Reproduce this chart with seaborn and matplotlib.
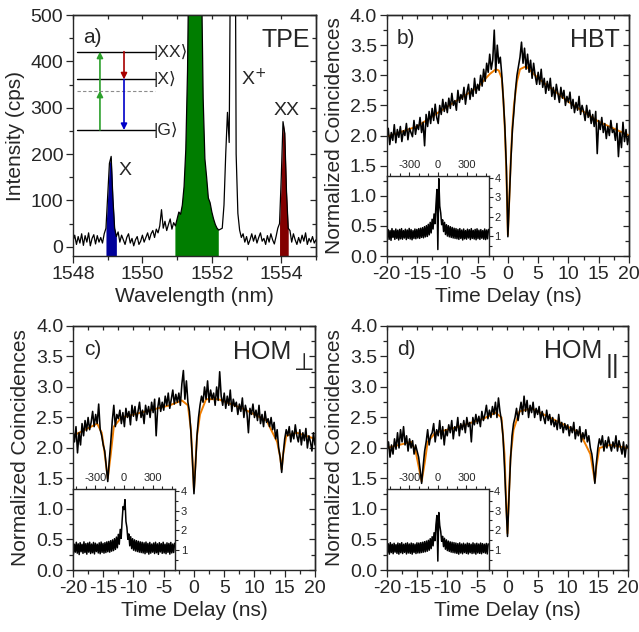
import numpy as np
import matplotlib
matplotlib.use("Agg")
import matplotlib.pyplot as plt
from matplotlib.ticker import MultipleLocator, FixedLocator
import seaborn as sns

sns.set_style("ticks")
plt.rcParams["font.family"] = ["Liberation Sans", "DejaVu Sans"]
plt.rcParams["axes.unicode_minus"] = False
plt.rcParams["axes.linewidth"] = 1.0

# ── a) TPE spectrum, 0.05 nm steps from 1548.00 to 1555.00 ──
wavelength = np.round(np.arange(1548.0, 1555.001, 0.05), 2)
intensity = [
    12, 25, 5, 22, 8, 28, 3, 24, 10, 30,          # 1548.00
    2, 18, 26, 6, 24, 10, 20, 8, 28, 40,          # 1548.50
    110, 180, 195, 105, 40, 22, 32, 10, 25, 15,   # 1549.00
    5, 20, 28, 8, 18, 2, 15, 22, 5, 12,           # 1549.50
    25, 10, 20, 30, 15, 28, 35, 20, 38, 30,       # 1550.00
    45, 80, 40, 55, 35, 48, 60, 38, 52, 45,       # 1550.50
    60, 75, 70, 90, 130, 210, 380, 700, 1100, 1500,  # 1551.00
    1600, 1500, 1200, 900, 600, 320, 190, 150, 105, 95,  # 1551.50
    75, 60, 48, 40, 36, 38, 40, 90, 200, 290,     # 1552.00
    225, 800, 2000, 1200, 200, 72, 36, 20, 28, 10,  # 1552.50
    22, 5, 15, 28, 12, 25, 8, 20, 30, 12,         # 1553.00
    18, 5, 24, 10, 28, 15, 6, 22, 40, 50,         # 1553.50
    150, 270, 245, 120, 40, 35, 10, 28, 15, 5,    # 1554.00
    20, 8, 25, 12, 30, 5, 18, 10, 22, 8,          # 1554.50
    15,                                           # 1555.00
]
band_x = (1548.93, 1549.27)
band_laser = (1550.93, 1552.21)
band_xx = (1553.93, 1554.22)

# ── b-d) correlation traces, 0.25 ns steps from -20 to 20 ns ──
delay = np.arange(-20, 20.001, 0.25)
g2_hbt = [
    1.95, 2.12, 1.85, 2.05, 1.92, 2.18, 1.88, 2.10, 1.97, 2.15,
    1.90, 2.08, 2.00, 2.20, 1.93, 2.12, 2.05, 1.98, 2.25, 2.02,
    2.18, 2.10, 2.30, 2.05, 2.22, 1.83, 2.35, 2.15, 2.40, 2.20,
    2.45, 2.25, 2.52, 2.30, 2.20, 2.50, 2.35, 2.60, 2.40, 2.55,
    2.38, 2.62, 2.45, 2.70, 2.50, 2.58, 2.42, 2.75, 2.55, 2.68,
    2.60, 2.80, 2.52, 2.72, 2.85, 2.60, 2.78, 2.65, 2.95, 2.70,
    2.85, 2.75, 3.00, 2.82, 3.10, 2.90, 3.20, 3.05, 3.35, 3.10,
    3.25, 3.75, 3.05, 3.50, 3.20, 3.30, 3.00, 2.60, 2.15, 1.48,
    0.32, 0.95, 1.60, 2.10, 2.40, 2.75, 3.00, 3.15, 3.30, 3.55,
    3.20, 3.45, 3.10, 3.35, 3.05, 3.25, 2.95, 3.20, 3.00, 2.85,
    3.05, 2.85, 3.10, 2.80, 2.95, 2.70, 2.90, 2.75, 2.95, 2.65,
    2.80, 2.60, 2.85, 2.70, 2.55, 2.80, 2.62, 2.75, 2.50, 2.65,
    2.55, 2.72, 2.45, 2.60, 2.38, 2.55, 2.42, 2.65, 2.35, 2.50,
    2.40, 2.25, 2.50, 2.30, 2.42, 2.20, 2.35, 2.15, 2.40, 1.70,
    2.25, 2.10, 2.30, 2.05, 2.20, 1.95, 2.15, 2.00, 2.25, 2.05,
    2.10, 1.92, 2.20, 1.65, 2.05, 1.80, 2.22, 1.90, 2.10, 1.85,
    2.00,
]
g2_hom_perp = [
    2.30, 2.10, 2.35, 1.92, 2.25, 2.05, 2.40, 2.20, 2.45, 2.28,
    2.50, 2.30, 2.42, 2.60, 2.35, 2.55, 2.40, 2.72, 2.30, 2.20,
    2.05, 1.95, 1.70, 1.45, 1.80, 2.10, 2.45, 2.70, 2.35, 2.55,
    2.48, 2.62, 2.40, 2.58, 2.35, 2.65, 2.50, 2.60, 2.38, 2.70,
    2.52, 2.68, 2.45, 2.60, 2.75, 2.50, 2.62, 2.40, 2.70, 2.55,
    2.68, 2.50, 2.75, 2.58, 2.80, 2.20, 2.65, 2.82, 2.60, 2.75,
    2.62, 2.85, 2.70, 2.90, 2.65, 2.80, 2.95, 2.72, 2.88, 2.75,
    2.90, 2.70, 3.05, 3.27, 2.80, 3.10, 2.75, 2.60, 2.25, 1.80,
    1.25, 1.70, 2.20, 2.50, 2.70, 2.85, 2.75, 3.00, 2.80, 3.10,
    2.75, 2.95, 2.80, 2.90, 2.70, 3.00, 2.78, 3.25, 2.85, 2.70,
    2.90, 2.65, 2.85, 2.70, 2.95, 2.60, 2.80, 2.68, 2.75, 2.55,
    2.72, 2.60, 2.82, 2.50, 2.70, 2.58, 2.25, 2.65, 2.55, 2.72,
    2.50, 2.62, 2.45, 2.70, 2.40, 2.55, 2.35, 2.60, 2.42, 2.48,
    2.35, 2.50, 2.30, 2.42, 2.15, 2.30, 2.00, 1.85, 1.60, 1.90,
    2.15, 2.30, 2.20, 2.35, 2.10, 2.28, 2.15, 2.38, 2.20, 2.10,
    2.30, 2.05, 2.25, 2.12, 2.32, 2.00, 2.20, 2.10, 1.95, 2.25,
    2.05,
]
g2_hom_par = [
    1.95, 2.10, 1.85, 2.05, 1.90, 2.15, 1.98, 2.25, 2.00, 2.30,
    2.10, 2.35, 2.05, 2.20, 1.95, 2.15, 2.00, 2.12, 1.90, 2.05,
    1.95, 1.85, 1.65, 1.42, 1.70, 1.95, 2.10, 2.30, 2.05, 2.20,
    2.25, 2.40, 2.10, 2.30, 2.20, 2.45, 2.15, 2.35, 2.05, 2.30,
    2.20, 2.38, 2.25, 2.45, 2.15, 2.35, 2.28, 2.50, 2.20, 2.40,
    2.30, 2.45, 2.25, 2.50, 2.35, 2.42, 2.10, 2.50, 2.38, 2.55,
    2.40, 2.52, 2.35, 2.60, 2.45, 2.55, 2.70, 2.48, 2.62, 2.50,
    2.68, 2.55, 2.75, 2.50, 2.82, 2.60, 2.45, 2.20, 1.70, 1.10,
    0.55, 1.20, 1.80, 2.20, 2.40, 2.50, 2.65, 2.45, 2.60, 2.75,
    2.55, 2.85, 2.60, 2.78, 2.50, 2.70, 2.58, 2.75, 2.50, 2.65,
    2.55, 2.68, 2.45, 2.60, 2.50, 2.40, 2.62, 2.45, 2.55, 2.38,
    2.50, 2.35, 2.45, 2.30, 2.55, 2.32, 2.42, 2.25, 2.40, 2.30,
    2.38, 2.20, 2.35, 2.25, 2.42, 2.15, 2.30, 2.20, 2.35, 2.10,
    2.25, 2.15, 2.30, 2.10, 2.20, 2.00, 1.90, 1.70, 1.42, 1.75,
    2.00, 2.15, 2.05, 2.20, 1.95, 2.12, 2.00, 2.18, 2.05, 1.95,
    2.10, 2.00, 2.20, 1.95, 2.12, 2.02, 1.90, 2.10, 1.85, 2.05,
    2.00,
]

# fitted curves (orange, mostly hidden under the data)
fit_t_hbt = [-20, -15, -10, -5, -3, -2, -1.5, -1, -0.75, -0.5, -0.25, 0,
             0.25, 0.5, 0.75, 1, 1.5, 2, 3, 5, 10, 15, 20]
fit_hbt = [1.98, 2.15, 2.48, 2.8, 3.02, 3.1, 3.08, 2.95, 2.6, 2.1, 1.4, 0.35,
           1.0, 1.65, 2.15, 2.5, 2.9, 3.1, 3.15, 2.95, 2.56, 2.23, 2.0]
fit_t_hom = [-20, -16, -15.25, -14.75, -14.25, -13.75, -13.25, -12, -8, -4, -2, -1,
             -0.5, -0.25, 0, 0.25, 0.5, 1, 2, 4, 8, 12, 13.75, 14.25, 14.5, 14.75,
             15.25, 17, 20]
fit_hom_perp = [2.2, 2.4, 2.25, 1.9, 1.5, 1.9, 2.35, 2.5, 2.6, 2.7, 2.78, 2.7,
                2.3, 1.8, 1.3, 1.75, 2.2, 2.55, 2.8, 2.8, 2.65, 2.45, 2.1, 1.85, 1.65, 1.9,
                2.2, 2.25, 2.15]
fit_hom_par = [2.0, 2.1, 1.95, 1.7, 1.45, 1.75, 2.1, 2.25, 2.35, 2.48, 2.58, 2.5,
               1.9, 1.2, 0.6, 1.25, 1.85, 2.3, 2.6, 2.65, 2.45, 2.25, 1.9, 1.6, 1.45, 1.7,
               2.0, 2.05, 2.0]

# ── insets: long time-scale correlations, 10 ns steps from -530 to 530 ──
delay_long = np.arange(-530, 531, 10)
long_hbt = [
    0.90, 1.35, 0.85, 1.30, 0.80, 1.40, 0.95, 1.30, 0.85, 1.38, 0.90,
    1.32, 0.82, 1.36, 0.88, 1.40, 0.86, 1.30, 0.92, 1.37, 0.84, 1.33,
    0.90, 1.41, 0.87, 1.35, 0.83, 1.30, 0.90, 1.38, 0.88, 1.36, 0.92,
    1.40, 0.90, 1.42, 0.95, 1.45, 0.93, 1.50, 0.98, 1.55, 1.00,
    1.62, 1.08, 1.72, 1.18, 1.88, 1.38, 2.15, 1.65, 2.60, 3.40,
    0.33,
    3.95, 2.55, 2.20, 1.60, 1.85, 1.25, 1.72, 1.10, 1.60, 1.02,
    1.55, 0.98, 1.50, 0.95, 1.46, 0.92, 1.42, 0.90, 1.40, 0.88,
    1.36, 0.85, 1.40, 0.90, 1.33, 0.82, 1.38, 0.88, 1.30, 0.86, 1.37,
    0.92, 1.34, 0.84, 1.40, 0.90, 1.31, 0.87, 1.36, 0.83, 1.39, 0.89,
    1.32, 0.85, 1.35, 0.91, 1.30, 0.86, 1.38, 0.84, 1.33, 0.88, 1.36,
]
long_hom_perp = [
    0.80, 1.30, 0.90, 1.40, 0.85, 1.32, 0.78, 1.38, 0.92, 1.30, 0.84,
    1.42, 0.88, 1.33, 0.80, 1.36, 0.90, 1.40, 0.83, 1.31, 0.87, 1.39,
    0.81, 1.35, 0.93, 1.30, 0.86, 1.37, 0.82, 1.41, 0.89, 1.34, 0.85,
    1.38, 0.88, 1.42, 0.92, 1.44, 0.90, 1.48, 0.95, 1.52, 0.98,
    1.58, 1.04, 1.66, 1.12, 1.80, 1.30, 2.05, 1.60, 2.50, 3.20,
    3.05,
    3.55, 2.45, 2.15, 1.55, 1.82, 1.22, 1.68, 1.08, 1.58, 1.00,
    1.52, 0.96, 1.48, 0.93, 1.45, 0.90, 1.42, 0.88, 1.40, 0.86,
    1.37, 0.82, 1.41, 0.88, 1.34, 0.80, 1.39, 0.85, 1.31, 0.90, 1.36,
    0.83, 1.40, 0.87, 1.32, 0.79, 1.38, 0.91, 1.33, 0.84, 1.40, 0.86,
    1.30, 0.82, 1.37, 0.89, 1.34, 0.80, 1.39, 0.86, 1.31, 0.88, 1.35,
]
long_hom_par = [
    0.85, 1.32, 0.80, 1.38, 0.88, 1.30, 0.82, 1.35, 0.90, 1.28, 0.84,
    1.36, 0.80, 1.33, 0.87, 1.38, 0.83, 1.30, 0.89, 1.34, 0.81, 1.37,
    0.86, 1.31, 0.84, 1.36, 0.80, 1.33, 0.88, 1.30, 0.83, 1.37, 0.86,
    1.36, 0.86, 1.38, 0.88, 1.40, 0.90, 1.43, 0.92, 1.46, 0.95,
    1.50, 1.00, 1.58, 1.08, 1.68, 1.22, 1.88, 1.48, 2.28, 2.75,
    0.45,
    2.90, 2.25, 1.95, 1.45, 1.70, 1.18, 1.60, 1.05, 1.52, 0.98,
    1.46, 0.94, 1.42, 0.90, 1.40, 0.88, 1.38, 0.86, 1.36, 0.84,
    1.33, 0.80, 1.37, 0.86, 1.31, 0.82, 1.35, 0.88, 1.30, 0.84, 1.36,
    0.81, 1.34, 0.87, 1.30, 0.83, 1.37, 0.85, 1.32, 0.80, 1.35, 0.86,
    1.31, 0.84, 1.36, 0.82, 1.33, 0.88, 1.30, 0.85, 1.34, 0.81, 1.32,
]

TICK_FS = 14
LABEL_FS = 15
ORANGE = "#f07d00"


def style_axes(ax, xmaj, xmin, ymaj, ymin):
    ax.xaxis.set_major_locator(MultipleLocator(xmaj))
    ax.xaxis.set_minor_locator(MultipleLocator(xmin))
    ax.yaxis.set_major_locator(MultipleLocator(ymaj))
    ax.yaxis.set_minor_locator(MultipleLocator(ymin))
    ax.tick_params(which="major", direction="out", length=5, width=0.9,
                   labelsize=TICK_FS, pad=2, top=False, right=False)
    ax.tick_params(which="minor", direction="out", length=3, width=0.9,
                   top=False, right=False)
    # mirrored ticks pointing inwards on top and right
    top = ax.secondary_xaxis("top")
    top.xaxis.set_major_locator(MultipleLocator(xmaj))
    top.xaxis.set_minor_locator(MultipleLocator(xmin))
    top.tick_params(which="both", direction="in", length=3, width=0.9, labeltop=False)
    right = ax.secondary_yaxis("right")
    right.yaxis.set_major_locator(MultipleLocator(ymaj))
    right.yaxis.set_minor_locator(MultipleLocator(ymin))
    right.tick_params(which="major", direction="in", length=4.5, width=0.9, labelright=False)
    right.tick_params(which="minor", direction="in", length=3, width=0.9)


def correlation_panel(ax, g2, fit_t, fit_g, long_g, letter):
    sns.lineplot(x=fit_t, y=fit_g, ax=ax, color=ORANGE, lw=1.4)
    sns.lineplot(x=delay, y=g2, ax=ax, color="black", lw=1.15)
    ax.set_xlim(-20, 20)
    ax.set_ylim(0, 4)
    ax.set_xlabel("Time Delay (ns)", fontsize=LABEL_FS, labelpad=3)
    ax.set_ylabel("Normalized Coincidences", fontsize=LABEL_FS, labelpad=4)
    style_axes(ax, 5, 2.5, 0.5, 0.25)
    ax.text(0.08, 0.88, letter, transform=ax.transAxes, fontsize=15,
            ha="center", va="baseline")

    ins = ax.inset_axes([0, 0, 0.422, 0.333])
    ins.set_facecolor("white")
    sns.lineplot(x=delay_long, y=long_g, ax=ins, color="black", lw=1.1)
    ins.set_xlim(-535, 535)
    ins.set_ylim(0, 4.1)
    ins.set_xlabel("")
    ins.set_ylabel("")
    ins.xaxis.tick_top()
    ins.yaxis.tick_right()
    ins.xaxis.set_major_locator(FixedLocator([-300, 0, 300]))
    ins.xaxis.set_minor_locator(MultipleLocator(100))
    ins.yaxis.set_major_locator(FixedLocator([1, 2, 3, 4]))
    ins.yaxis.set_minor_locator(MultipleLocator(0.5))
    ins.tick_params(which="major", direction="out", length=3, width=0.8,
                    labelsize=8, pad=1)
    ins.tick_params(which="minor", direction="out", length=2, width=0.8)
    for sp in ins.spines.values():
        sp.set_linewidth(1.0)
    return ins


fig = plt.figure(figsize=(6.39, 6.32), dpi=100)
ax_a = fig.add_axes([0.1142, 0.5949, 0.3803, 0.3813])
ax_b = fig.add_axes([0.6052, 0.5949, 0.3792, 0.3813])
ax_c = fig.add_axes([0.1142, 0.0981, 0.3787, 0.3861])
ax_d = fig.add_axes([0.6056, 0.0981, 0.3772, 0.3861])

# ── panel a ──
wl = np.asarray(wavelength)
spec = np.asarray(intensity, dtype=float)
for (lo, hi), col in [(band_x, "#00009a"), (band_laser, "#007d00"), (band_xx, "#820000")]:
    m = (wl >= lo) & (wl <= hi)
    ax_a.fill_between(wl, -20, spec, where=m, color=col, lw=0)
sns.lineplot(x=wl, y=spec, ax=ax_a, color="black", lw=0.9)
ax_a.set_xlim(1548, 1555)
ax_a.set_ylim(-20, 500)
ax_a.set_xlabel("Wavelength (nm)", fontsize=LABEL_FS, labelpad=3)
ax_a.set_ylabel("Intensity (cps)", fontsize=LABEL_FS, labelpad=4)
style_axes(ax_a, 2, 1, 100, 50)
ax_a.text(0.08, 0.885, "a)", transform=ax_a.transAxes, fontsize=15, ha="center", va="baseline")
ax_a.text(0.975, 0.868, "TPE", transform=ax_a.transAxes, fontsize=18, ha="right", va="baseline")
ax_a.text(1549.31, 155, "X", fontsize=14, ha="left", va="baseline")
ax_a.text(1553.79, 284, "XX", fontsize=14, ha="left", va="baseline")
ax_a.text(1552.84, 349, "X$^{+}$", fontsize=14, ha="left", va="baseline")

# energy level scheme
lv_xx, lv_x, lv_virt, lv_g = 0.848, 0.733, 0.686, 0.523
for lv, name in [(lv_xx, "|XX\u27e9"), (lv_x, "|X\u27e9"), (lv_g, "|G\u27e9")]:
    ax_a.plot([0.015, 0.337], [lv, lv], transform=ax_a.transAxes, color="black", lw=1.0)
    ax_a.text(0.331, lv, name, transform=ax_a.transAxes, fontsize=12.5, ha="left", va="center")
ax_a.plot([0.015, 0.337], [lv_virt, lv_virt], transform=ax_a.transAxes,
          color="#8c8c8c", lw=0.8, ls=(0, (3, 2)))
arrows = [((0.111, lv_g), (0.111, lv_virt), "#2ca02c"),
          ((0.111, lv_virt), (0.111, lv_xx), "#2ca02c"),
          ((0.21, lv_xx), (0.21, lv_x), "#a80000"),
          ((0.21, lv_x), (0.21, lv_g), "#0000c8")]
for start, end, col in arrows:
    ax_a.annotate("", xy=end, xytext=start, xycoords="axes fraction",
                  arrowprops=dict(arrowstyle="-|>", color=col, lw=1.2,
                                  mutation_scale=9, shrinkA=0, shrinkB=0))

# ── panels b-d ──
correlation_panel(ax_b, g2_hbt, fit_t_hbt, fit_hbt, long_hbt, "b)")
ax_b.text(0.963, 0.868, "HBT", transform=ax_b.transAxes, fontsize=18, ha="right", va="baseline")

correlation_panel(ax_c, g2_hom_perp, fit_t_hom, fit_hom_perp, long_hom_perp, "c)")
ax_c.text(0.904, 0.865, "HOM", transform=ax_c.transAxes, fontsize=18, ha="right", va="baseline")
ax_c.text(0.957, 0.818, "\u22a5", transform=ax_c.transAxes, fontsize=17,
          ha="center", va="baseline", family=["DejaVu Sans"])

correlation_panel(ax_d, g2_hom_par, fit_t_hom, fit_hom_par, long_hom_par, "d)")
ax_d.text(0.895, 0.87, "HOM", transform=ax_d.transAxes, fontsize=18, ha="right", va="baseline")
ax_d.text(0.934, 0.835, "||", transform=ax_d.transAxes, fontsize=19, ha="center", va="center")

fig.savefig("out.png", dpi=100)
